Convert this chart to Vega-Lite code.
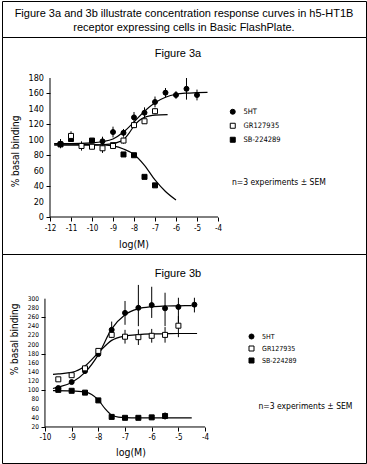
{
  "$schema": "https://vega.github.io/schema/vega-lite/v6.json",
  "padding": {"left": 1, "top": 0, "right": 0, "bottom": 0},
  "background": "white",
  "spacing": 0,
  "bounds": "flush",
  "datasets": {
    "header": [
      {"i": 0, "line": "Figure 3a and 3b illustrate concentration response curves in h5-HT1B"},
      {"i": 1, "line": "receptor expressing cells in Basic FlashPlate."}
    ],
    "a_axis": [
      {"x": -12, "x2": -4, "y": 0, "y2": 0},
      {"x": -12, "x2": -12, "y": 0, "y2": 180}
    ],
    "b_axis": [
      {"x": -10, "x2": -4, "y": 20, "y2": 20},
      {"x": -10, "x2": -10, "y": 20, "y2": 300}
    ],
    "a_ylab": [
      {"x": -12, "y": 0, "lab": "0"}, {"x": -12, "y": 20, "lab": "20"}, {"x": -12, "y": 40, "lab": "40"},
      {"x": -12, "y": 60, "lab": "60"}, {"x": -12, "y": 80, "lab": "80"}, {"x": -12, "y": 100, "lab": "100"},
      {"x": -12, "y": 120, "lab": "120"}, {"x": -12, "y": 140, "lab": "140"}, {"x": -12, "y": 160, "lab": "160"},
      {"x": -12, "y": 180, "lab": "180"}
    ],
    "b_ylab": [
      {"x": -10, "y": 20, "lab": "20"}, {"x": -10, "y": 40, "lab": "40"}, {"x": -10, "y": 60, "lab": "60"},
      {"x": -10, "y": 80, "lab": "80"}, {"x": -10, "y": 100, "lab": "100"}, {"x": -10, "y": 120, "lab": "120"},
      {"x": -10, "y": 140, "lab": "140"}, {"x": -10, "y": 160, "lab": "160"}, {"x": -10, "y": 180, "lab": "180"},
      {"x": -10, "y": 200, "lab": "200"}, {"x": -10, "y": 220, "lab": "220"}, {"x": -10, "y": 240, "lab": "240"},
      {"x": -10, "y": 260, "lab": "260"}, {"x": -10, "y": 280, "lab": "280"}, {"x": -10, "y": 300, "lab": "300"}
    ],
    "a_note": [{"x": -1.1, "y": 45, "t": "n=3 experiments ± SEM"}],
    "b_note": [{"x": -0.24, "y": 65, "t": "n=3 experiments ± SEM"}],
    "a_pts": [
      {"s": "5HT", "x": -11.5, "y": 95, "lo": 89, "hi": 101},
      {"s": "5HT", "x": -9.5, "y": 98, "lo": 92, "hi": 104},
      {"s": "5HT", "x": -9, "y": 110, "lo": 103, "hi": 117},
      {"s": "5HT", "x": -8.5, "y": 109, "lo": 104, "hi": 114},
      {"s": "5HT", "x": -8, "y": 129, "lo": 122, "hi": 136},
      {"s": "5HT", "x": -7.5, "y": 135, "lo": 128, "hi": 142},
      {"s": "5HT", "x": -7, "y": 149, "lo": 142, "hi": 156},
      {"s": "5HT", "x": -6.5, "y": 161, "lo": 155, "hi": 167},
      {"s": "5HT", "x": -6, "y": 158, "lo": 153, "hi": 163},
      {"s": "5HT", "x": -5.5, "y": 166, "lo": 152, "hi": 180},
      {"s": "5HT", "x": -5, "y": 158, "lo": 151, "hi": 165},
      {"s": "SB-224289", "x": -11.5, "y": 94, "lo": 92, "hi": 96},
      {"s": "SB-224289", "x": -11, "y": 101, "lo": 99, "hi": 103},
      {"s": "SB-224289", "x": -10, "y": 99, "lo": 97, "hi": 101},
      {"s": "SB-224289", "x": -9, "y": 93, "lo": 91, "hi": 95},
      {"s": "SB-224289", "x": -8.5, "y": 81, "lo": 80, "hi": 82},
      {"s": "SB-224289", "x": -8, "y": 80, "lo": 79, "hi": 81},
      {"s": "SB-224289", "x": -7.5, "y": 52, "lo": 51, "hi": 53},
      {"s": "SB-224289", "x": -7, "y": 41, "lo": 40, "hi": 42},
      {"s": "GR127935", "x": -11, "y": 105, "lo": 99, "hi": 111},
      {"s": "GR127935", "x": -10.5, "y": 92, "lo": 86, "hi": 98},
      {"s": "GR127935", "x": -10, "y": 91, "lo": 88, "hi": 94},
      {"s": "GR127935", "x": -9.5, "y": 89, "lo": 83, "hi": 95},
      {"s": "GR127935", "x": -9, "y": 92, "lo": 89, "hi": 95},
      {"s": "GR127935", "x": -8.5, "y": 99, "lo": 95, "hi": 103},
      {"s": "GR127935", "x": -8, "y": 119, "lo": 115, "hi": 123},
      {"s": "GR127935", "x": -7.5, "y": 124, "lo": 121, "hi": 127},
      {"s": "GR127935", "x": -7, "y": 137, "lo": 133, "hi": 141}
    ],
    "a_fit": [
      {"s": "5HT", "x": -11.8, "y": 95},
      {"s": "5HT", "x": -11, "y": 95},
      {"s": "5HT", "x": -10, "y": 96},
      {"s": "5HT", "x": -9.5, "y": 97.5},
      {"s": "5HT", "x": -9, "y": 101},
      {"s": "5HT", "x": -8.5, "y": 110},
      {"s": "5HT", "x": -8, "y": 123},
      {"s": "5HT", "x": -7.5, "y": 137},
      {"s": "5HT", "x": -7, "y": 148},
      {"s": "5HT", "x": -6.5, "y": 155},
      {"s": "5HT", "x": -6, "y": 159},
      {"s": "5HT", "x": -5.5, "y": 160.5},
      {"s": "5HT", "x": -5, "y": 161},
      {"s": "5HT", "x": -4.5, "y": 161.5},
      {"s": "GR127935", "x": -11.8, "y": 93},
      {"s": "GR127935", "x": -11, "y": 93},
      {"s": "GR127935", "x": -10, "y": 93},
      {"s": "GR127935", "x": -9.5, "y": 93.5},
      {"s": "GR127935", "x": -9, "y": 95},
      {"s": "GR127935", "x": -8.75, "y": 97},
      {"s": "GR127935", "x": -8.5, "y": 100},
      {"s": "GR127935", "x": -8.25, "y": 108},
      {"s": "GR127935", "x": -8, "y": 118},
      {"s": "GR127935", "x": -7.75, "y": 125},
      {"s": "GR127935", "x": -7.5, "y": 129},
      {"s": "GR127935", "x": -7.25, "y": 131},
      {"s": "GR127935", "x": -7, "y": 132},
      {"s": "GR127935", "x": -6.4, "y": 132.5},
      {"s": "SB-224289", "x": -11.8, "y": 94.5},
      {"s": "SB-224289", "x": -11, "y": 94.5},
      {"s": "SB-224289", "x": -10, "y": 94},
      {"s": "SB-224289", "x": -9.5, "y": 93.5},
      {"s": "SB-224289", "x": -9, "y": 92},
      {"s": "SB-224289", "x": -8.5, "y": 88},
      {"s": "SB-224289", "x": -8, "y": 81},
      {"s": "SB-224289", "x": -7.5, "y": 67},
      {"s": "SB-224289", "x": -7, "y": 48},
      {"s": "SB-224289", "x": -6.5, "y": 33},
      {"s": "SB-224289", "x": -6, "y": 22}
    ],
    "b_pts": [
      {"s": "5HT", "x": -9.5, "y": 105, "lo": 101, "hi": 109},
      {"s": "5HT", "x": -9, "y": 118, "lo": 115, "hi": 121},
      {"s": "5HT", "x": -8.5, "y": 142, "lo": 138, "hi": 146},
      {"s": "5HT", "x": -8, "y": 179, "lo": 175, "hi": 183},
      {"s": "5HT", "x": -7.5, "y": 232, "lo": 222, "hi": 250},
      {"s": "5HT", "x": -7, "y": 269, "lo": 243, "hi": 295},
      {"s": "5HT", "x": -6.5, "y": 280, "lo": 240, "hi": 330},
      {"s": "5HT", "x": -6, "y": 286, "lo": 258, "hi": 326},
      {"s": "5HT", "x": -5.5, "y": 279, "lo": 240, "hi": 313},
      {"s": "5HT", "x": -5, "y": 282, "lo": 248, "hi": 302},
      {"s": "5HT", "x": -4.4, "y": 287, "lo": 270, "hi": 302},
      {"s": "SB-224289", "x": -9.5, "y": 101, "lo": 98, "hi": 104},
      {"s": "SB-224289", "x": -9, "y": 99, "lo": 97, "hi": 101},
      {"s": "SB-224289", "x": -8.5, "y": 95, "lo": 93, "hi": 97},
      {"s": "SB-224289", "x": -8, "y": 78, "lo": 76, "hi": 80},
      {"s": "SB-224289", "x": -7.5, "y": 42, "lo": 40, "hi": 44},
      {"s": "SB-224289", "x": -7, "y": 40, "lo": 38, "hi": 42},
      {"s": "SB-224289", "x": -6.5, "y": 40, "lo": 38, "hi": 42},
      {"s": "SB-224289", "x": -6, "y": 41, "lo": 39, "hi": 43},
      {"s": "SB-224289", "x": -5.5, "y": 44, "lo": 36, "hi": 52},
      {"s": "GR127935", "x": -9.5, "y": 124, "lo": 121, "hi": 127},
      {"s": "GR127935", "x": -9, "y": 133, "lo": 130, "hi": 136},
      {"s": "GR127935", "x": -8.5, "y": 148, "lo": 145, "hi": 151},
      {"s": "GR127935", "x": -8, "y": 186, "lo": 182, "hi": 190},
      {"s": "GR127935", "x": -7.5, "y": 221, "lo": 214, "hi": 228},
      {"s": "GR127935", "x": -7, "y": 217, "lo": 202, "hi": 232},
      {"s": "GR127935", "x": -6.5, "y": 216, "lo": 199, "hi": 233},
      {"s": "GR127935", "x": -6, "y": 219, "lo": 204, "hi": 234},
      {"s": "GR127935", "x": -5.5, "y": 221, "lo": 204, "hi": 238},
      {"s": "GR127935", "x": -5, "y": 241, "lo": 216, "hi": 262}
    ],
    "b_fit": [
      {"s": "5HT", "x": -9.7, "y": 104},
      {"s": "5HT", "x": -9.5, "y": 107},
      {"s": "5HT", "x": -9, "y": 117},
      {"s": "5HT", "x": -8.5, "y": 139},
      {"s": "5HT", "x": -8, "y": 178},
      {"s": "5HT", "x": -7.5, "y": 234},
      {"s": "5HT", "x": -7, "y": 265},
      {"s": "5HT", "x": -6.5, "y": 278},
      {"s": "5HT", "x": -6, "y": 282.5},
      {"s": "5HT", "x": -5.5, "y": 284},
      {"s": "5HT", "x": -5, "y": 284.5},
      {"s": "5HT", "x": -4.5, "y": 285},
      {"s": "GR127935", "x": -9.7, "y": 135},
      {"s": "GR127935", "x": -9.5, "y": 136},
      {"s": "GR127935", "x": -9, "y": 139},
      {"s": "GR127935", "x": -8.5, "y": 153},
      {"s": "GR127935", "x": -8, "y": 182},
      {"s": "GR127935", "x": -7.5, "y": 209},
      {"s": "GR127935", "x": -7, "y": 218.5},
      {"s": "GR127935", "x": -6.5, "y": 221.5},
      {"s": "GR127935", "x": -6, "y": 223},
      {"s": "GR127935", "x": -5.5, "y": 223.5},
      {"s": "GR127935", "x": -5, "y": 224},
      {"s": "GR127935", "x": -4.3, "y": 224},
      {"s": "SB-224289", "x": -9.7, "y": 99.5},
      {"s": "SB-224289", "x": -9, "y": 99},
      {"s": "SB-224289", "x": -8.5, "y": 96.5},
      {"s": "SB-224289", "x": -8.25, "y": 91},
      {"s": "SB-224289", "x": -8, "y": 79},
      {"s": "SB-224289", "x": -7.75, "y": 60},
      {"s": "SB-224289", "x": -7.5, "y": 46},
      {"s": "SB-224289", "x": -7.25, "y": 41.5},
      {"s": "SB-224289", "x": -7, "y": 40.5},
      {"s": "SB-224289", "x": -6.5, "y": 40},
      {"s": "SB-224289", "x": -6, "y": 40},
      {"s": "SB-224289", "x": -5, "y": 40},
      {"s": "SB-224289", "x": -4.5, "y": 40}
    ]
  },
  "config": {
    "view": {"stroke": "black", "strokeWidth": 1},
    "axis": {
      "domain": false, "grid": false, "ticks": true, "tickColor": "black", "tickSize": 4, "tickWidth": 1,
      "labelColor": "black", "titleColor": "black",
      "labelFont": "Liberation Sans Narrow, DejaVu Sans Condensed, sans-serif",
      "titleFont": "Liberation Sans Narrow, DejaVu Sans Condensed, sans-serif",
      "titleFontWeight": "normal", "labelOverlap": false, "labelFlush": false, "labelBound": false
    },
    "legend": {
      "labelFont": "Liberation Sans Narrow, DejaVu Sans Condensed, sans-serif",
      "labelColor": "black"
    }
  },
  "resolve": {
    "scale": {"x": "independent", "y": "independent", "shape": "independent", "fill": "independent", "stroke": "independent"},
    "legend": {"shape": "independent", "fill": "independent", "stroke": "independent"}
  },
  "vconcat": [
    {
      "width": 364, "height": 36,
      "data": {"name": "header"},
      "mark": {"type": "text", "font": "Liberation Sans", "fontSize": 11, "baseline": "alphabetic", "dy": 5, "color": "black"},
      "encoding": {
        "y": {"field": "i", "type": "ordinal", "axis": null, "scale": {"type": "point", "padding": 0.8}},
        "text": {"field": "line"}
      }
    },
    {
      "width": 364, "height": 217,
      "title": {"text": "Figure 3a", "font": "Liberation Sans", "fontSize": 11, "fontWeight": "normal", "color": "black", "offset": -31, "dx": -6, "baseline": "alphabetic", "anchor": "middle", "frame": "group"},
      "layer": [
        {
          "data": {"name": "a_axis"},
          "mark": {"type": "rule", "color": "black", "strokeWidth": 1},
          "encoding": {
            "x": {"field": "x", "type": "quantitative", "scale": {"domain": [-14.286, 3.048], "nice": false, "zero": false},
                  "axis": {"orient": "bottom", "offset": -37, "zindex": 2, "values": [-12, -11, -10, -9, -8, -7, -6, -5, -4], "labelExpr": "'-' + abs(datum.value)", "labelOverlap": false, "labelFontSize": 8, "labelPadding": 3, "title": "log(M)", "titleFontSize": 10.5, "titleX": 131.5, "titlePadding": 7}},
            "x2": {"field": "x2"},
            "y": {"field": "y", "type": "quantitative", "scale": {"domain": [-47.9, 233.1], "nice": false, "zero": false},
                  "axis": {"orient": "left", "offset": -48, "zindex": 2, "values": [0, 10, 20, 30, 40, 50, 60, 70, 80, 90, 100, 110, 120, 130, 140, 150, 160, 170, 180], "labels": false, "title": "% basal binding", "titleFontSize": 10, "titleX": -30, "titleY": 114}},
            "y2": {"field": "y2"}
          }
        },
        {
          "data": {"name": "a_ylab"},
          "mark": {"type": "text", "font": "Liberation Sans Narrow, DejaVu Sans Condensed, sans-serif", "fontSize": 9, "align": "right", "baseline": "middle", "dx": -6, "color": "black"},
          "encoding": {
            "x": {"field": "x", "type": "quantitative", "scale": {"domain": [-14.286, 3.048], "nice": false, "zero": false}},
            "y": {"field": "y", "type": "quantitative", "scale": {"domain": [-47.9, 233.1], "nice": false, "zero": false}},
            "text": {"field": "lab"}
          }
        },
        {
          "data": {"name": "a_fit"},
          "mark": {"type": "line", "color": "black", "strokeWidth": 1.2, "interpolate": "monotone"},
          "encoding": {
            "x": {"field": "x", "type": "quantitative", "scale": {"domain": [-14.286, 3.048], "nice": false, "zero": false}},
            "y": {"field": "y", "type": "quantitative", "scale": {"domain": [-47.9, 233.1], "nice": false, "zero": false}},
            "detail": {"field": "s"}
          }
        },
        {
          "data": {"name": "a_pts"},
          "mark": {"type": "rule", "color": "black", "strokeWidth": 1},
          "encoding": {
            "x": {"field": "x", "type": "quantitative", "scale": {"domain": [-14.286, 3.048], "nice": false, "zero": false}},
            "y": {"field": "lo", "type": "quantitative", "scale": {"domain": [-47.9, 233.1], "nice": false, "zero": false}},
            "y2": {"field": "hi"}
          }
        },
        {
          "data": {"name": "a_pts"},
          "mark": {"type": "point", "filled": true, "strokeWidth": 1, "size": 25, "opacity": 1},
          "encoding": {
            "x": {"field": "x", "type": "quantitative", "scale": {"domain": [-14.286, 3.048], "nice": false, "zero": false}},
            "y": {"field": "y", "type": "quantitative", "scale": {"domain": [-47.9, 233.1], "nice": false, "zero": false}},
            "shape": {"field": "s", "type": "nominal", "scale": {"domain": ["5HT", "GR127935", "SB-224289"], "range": ["circle", "square", "square"]},
                      "legend": {"orient": "none", "legendX": 227, "legendY": 71, "title": null, "direction": "vertical", "padding": 0, "rowPadding": 4, "symbolSize": 25, "symbolStrokeWidth": 1, "labelFontSize": 7.5, "labelOffset": 7}},
            "fill": {"field": "s", "type": "nominal", "scale": {"domain": ["5HT", "GR127935", "SB-224289"], "range": ["black", "white", "black"]},
                     "legend": {"orient": "none", "legendX": 227, "legendY": 71, "title": null, "direction": "vertical", "padding": 0, "rowPadding": 4, "symbolSize": 25, "symbolStrokeWidth": 1, "labelFontSize": 7.5, "labelOffset": 7}},
            "stroke": {"field": "s", "type": "nominal", "scale": {"domain": ["5HT", "GR127935", "SB-224289"], "range": ["black", "black", "black"]},
                     "legend": {"orient": "none", "legendX": 227, "legendY": 71, "title": null, "direction": "vertical", "padding": 0, "rowPadding": 4, "symbolSize": 25, "symbolStrokeWidth": 1, "labelFontSize": 7.5, "labelOffset": 7}}
          }
        },
        {
          "data": {"name": "a_note"},
          "mark": {"type": "text", "font": "Liberation Sans Narrow, DejaVu Sans Condensed, sans-serif", "fontSize": 8.5, "align": "center", "baseline": "middle", "color": "black"},
          "encoding": {
            "x": {"field": "x", "type": "quantitative", "scale": {"domain": [-14.286, 3.048], "nice": false, "zero": false}},
            "y": {"field": "y", "type": "quantitative", "scale": {"domain": [-47.9, 233.1], "nice": false, "zero": false}},
            "text": {"field": "t"}
          }
        }
      ]
    },
    {
      "width": 364, "height": 209,
      "title": {"text": "Figure 3b", "font": "Liberation Sans", "fontSize": 11, "fontWeight": "normal", "color": "black", "offset": -34, "dx": -6, "baseline": "alphabetic", "anchor": "middle", "frame": "group"},
      "layer": [
        {
          "data": {"name": "b_axis"},
          "mark": {"type": "rule", "color": "black", "strokeWidth": 1},
          "encoding": {
            "x": {"field": "x", "type": "quantitative", "scale": {"domain": [-11.61, 2.03], "nice": false, "zero": false},
                  "axis": {"orient": "bottom", "offset": -36, "zindex": 2, "values": [-10, -9.5, -9, -8.5, -8, -7.5, -7, -6.5, -6, -5.5, -5, -4.5, -4], "labelExpr": "datum.value % 1 === 0 ? '-' + abs(datum.value) : ''", "labelOverlap": false, "labelFontSize": 8, "labelPadding": 2, "title": "log(M)", "titleFontSize": 10.5, "titleX": 128.5, "titlePadding": 6}},
            "x2": {"field": "x2"},
            "y": {"field": "y", "type": "quantitative", "scale": {"domain": [-58.6, 397.5], "nice": false, "zero": false},
                  "axis": {"orient": "left", "offset": -43, "zindex": 2, "values": [20, 30, 40, 50, 60, 70, 80, 90, 100, 110, 120, 130, 140, 150, 160, 170, 180, 190, 200, 210, 220, 230, 240, 250, 260, 270, 280, 290, 300], "labels": false, "title": "% basal binding", "titleFontSize": 10, "titleX": -26, "titleY": 85}},
            "y2": {"field": "y2"}
          }
        },
        {
          "data": {"name": "b_ylab"},
          "mark": {"type": "text", "font": "Liberation Sans Narrow, DejaVu Sans Condensed, sans-serif", "fontSize": 6.5, "align": "right", "baseline": "middle", "dx": -6, "color": "black"},
          "encoding": {
            "x": {"field": "x", "type": "quantitative", "scale": {"domain": [-11.61, 2.03], "nice": false, "zero": false}},
            "y": {"field": "y", "type": "quantitative", "scale": {"domain": [-58.6, 397.5], "nice": false, "zero": false}},
            "text": {"field": "lab"}
          }
        },
        {
          "data": {"name": "b_fit"},
          "mark": {"type": "line", "color": "black", "strokeWidth": 1.2, "interpolate": "monotone"},
          "encoding": {
            "x": {"field": "x", "type": "quantitative", "scale": {"domain": [-11.61, 2.03], "nice": false, "zero": false}},
            "y": {"field": "y", "type": "quantitative", "scale": {"domain": [-58.6, 397.5], "nice": false, "zero": false}},
            "detail": {"field": "s"}
          }
        },
        {
          "data": {"name": "b_pts"},
          "mark": {"type": "rule", "color": "black", "strokeWidth": 1},
          "encoding": {
            "x": {"field": "x", "type": "quantitative", "scale": {"domain": [-11.61, 2.03], "nice": false, "zero": false}},
            "y": {"field": "lo", "type": "quantitative", "scale": {"domain": [-58.6, 397.5], "nice": false, "zero": false}},
            "y2": {"field": "hi"}
          }
        },
        {
          "data": {"name": "b_pts"},
          "mark": {"type": "point", "filled": true, "strokeWidth": 1, "size": 25, "opacity": 1},
          "encoding": {
            "x": {"field": "x", "type": "quantitative", "scale": {"domain": [-11.61, 2.03], "nice": false, "zero": false}},
            "y": {"field": "y", "type": "quantitative", "scale": {"domain": [-58.6, 397.5], "nice": false, "zero": false}},
            "shape": {"field": "s", "type": "nominal", "scale": {"domain": ["5HT", "GR127935", "SB-224289"], "range": ["circle", "square", "square"]},
                      "legend": {"orient": "none", "legendX": 246, "legendY": 79, "title": null, "direction": "vertical", "padding": 0, "rowPadding": 3, "symbolSize": 25, "symbolStrokeWidth": 1, "labelFontSize": 7, "labelOffset": 7}},
            "fill": {"field": "s", "type": "nominal", "scale": {"domain": ["5HT", "GR127935", "SB-224289"], "range": ["black", "white", "black"]},
                     "legend": {"orient": "none", "legendX": 246, "legendY": 79, "title": null, "direction": "vertical", "padding": 0, "rowPadding": 3, "symbolSize": 25, "symbolStrokeWidth": 1, "labelFontSize": 7, "labelOffset": 7}},
            "stroke": {"field": "s", "type": "nominal", "scale": {"domain": ["5HT", "GR127935", "SB-224289"], "range": ["black", "black", "black"]},
                     "legend": {"orient": "none", "legendX": 246, "legendY": 79, "title": null, "direction": "vertical", "padding": 0, "rowPadding": 3, "symbolSize": 25, "symbolStrokeWidth": 1, "labelFontSize": 7, "labelOffset": 7}}
          }
        },
        {
          "data": {"name": "b_note"},
          "mark": {"type": "text", "font": "Liberation Sans Narrow, DejaVu Sans Condensed, sans-serif", "fontSize": 8.5, "align": "center", "baseline": "middle", "color": "black"},
          "encoding": {
            "x": {"field": "x", "type": "quantitative", "scale": {"domain": [-11.61, 2.03], "nice": false, "zero": false}},
            "y": {"field": "y", "type": "quantitative", "scale": {"domain": [-58.6, 397.5], "nice": false, "zero": false}},
            "text": {"field": "t"}
          }
        }
      ]
    }
  ]
}
